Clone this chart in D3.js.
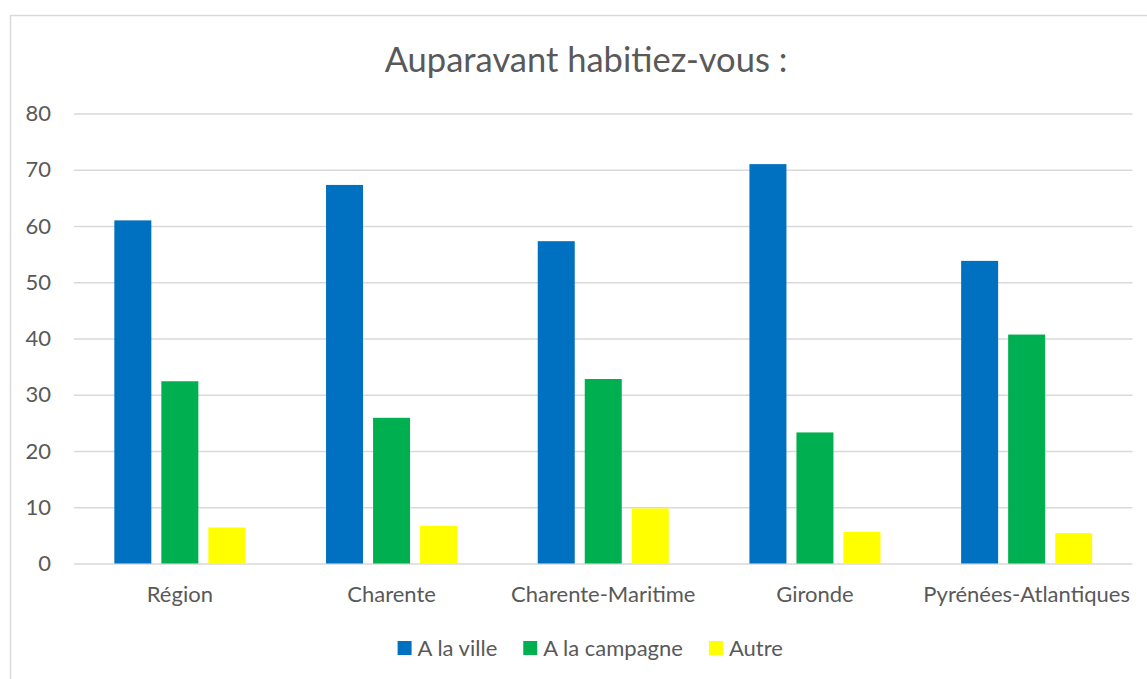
<!DOCTYPE html>
<html><head><meta charset="utf-8">
<script src="https://cdn.jsdelivr.net/npm/d3@7"></script>
<style>body{margin:0;background:#fff}svg{display:block}text{font-family:Lato,"Open Sans",sans-serif;fill:#595959}</style>
</head><body><svg id="c" width="1147" height="679"></svg>
<script>
const categories = ["Région","Charente","Charente-Maritime","Gironde","Pyrénées-Atlantiques"];
const seriesNames = ["A la ville","A la campagne","Autre"];
const villeValues = [61.0, 67.3, 57.3, 71.0, 53.8];
const campagneValues = [32.4, 25.9, 32.8, 23.3, 40.7];
const autreValues = [6.4, 6.7, 9.8, 5.6, 5.4];
const yTicks = [0,10,20,30,40,50,60,70,80];
const colors = ["#0070C0","#00B050","#FFFF00"];
const title = "Auparavant habitiez-vous :";

(function(){
const series = [villeValues, campagneValues, autreValues];
const svg = d3.select("#c");
svg.append("rect").attr("x",10.5).attr("y",15.5).attr("width",1200).attr("height",700)
  .attr("fill","#fff").attr("stroke","#d9d9d9").attr("stroke-width",1.5);

const pL=74, pR=1132.5, pT=113.5, pB=563.5;
const x = d3.scaleBand().domain(categories).range([pL,pR]).paddingInner(0).paddingOuter(0);
const x1 = d3.scaleBand().domain(d3.range(3)).range([0,x.bandwidth()]).paddingInner(0.213).paddingOuter(0.858);
const y = d3.scaleLinear().domain([0,80]).range([pB,pT]);

const yAxis = d3.axisLeft(y).tickValues(yTicks).tickSize(-(pR-pL)).tickPadding(23);
const gy = svg.append("g").attr("transform",`translate(${pL},0)`).call(yAxis);
gy.select(".domain").remove();
gy.selectAll(".tick line").attr("stroke","#d9d9d9").attr("stroke-width",1.5);
gy.selectAll(".tick text").attr("font-size",22).style("fill","#595959");

const gx = svg.append("g").attr("transform",`translate(0,${pB})`).call(d3.axisBottom(x).tickSize(0).tickPadding(23));
gx.select(".domain").remove();
gx.selectAll(".tick text").attr("font-size",22).style("fill","#595959");

const groups = svg.append("g").selectAll("g").data(categories).join("g")
  .attr("transform",d=>`translate(${x(d)},0)`);
groups.selectAll("rect").data((d,i)=>series.map((s,j)=>({j,v:s[i]}))).join("rect")
  .attr("x",d=>x1(d.j)).attr("width",x1.bandwidth())
  .attr("y",d=>y(d.v)).attr("height",d=>y(0)-y(d.v))
  .attr("fill",d=>colors[d.j]);

svg.append("text").attr("x",586).attr("y",72).attr("text-anchor","middle")
  .attr("font-size",34.5).text(title);

const lg = svg.append("g");
const items = lg.selectAll("g").data(seriesNames).join("g");
items.append("rect").attr("width",14).attr("height",14).attr("y",-14).attr("fill",(d,i)=>colors[i]);
items.append("text").attr("x",20).attr("y",1).attr("font-size",22).text(d=>d);
const widths=[];
items.each(function(){widths.push(this.getBBox().width);});
const gap=26;
const total=d3.sum(widths)+gap*(widths.length-1);
let start=(pL+pR)/2 - total/2 - 13;
items.attr("transform",(d,i)=>{const t=`translate(${start},655)`; start+=widths[i]+gap; return t;});
})();
</script></body></html>
